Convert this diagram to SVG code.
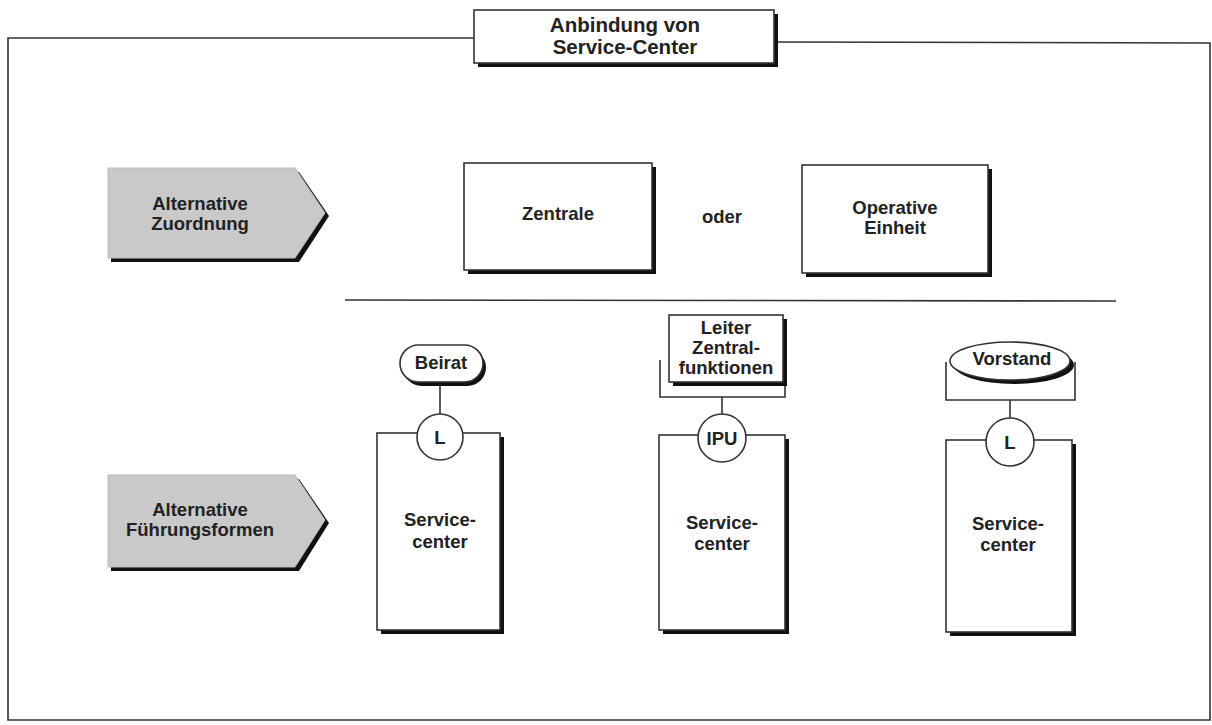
<svg xmlns="http://www.w3.org/2000/svg" width="1212" height="725" viewBox="0 0 1212 725">
<style>
.t{font-family:"Liberation Sans",Arial,sans-serif;font-weight:bold;font-size:18.5px;fill:#222;text-anchor:middle}
.tt{font-size:20.5px}
.ln{stroke:#333;stroke-width:1.6;fill:none}
.bx{fill:#fff;stroke:#333;stroke-width:1.6}
.sh{fill:#111}
.ar{fill:#c9c9c9;stroke:#bbb;stroke-width:1}
</style>
<rect width="1212" height="725" fill="#fff"/>
<g id="frame">
<path class="ln" d="M474,38 L8,38 L8,720 L1210,720 L1210,43 L774,42"/>
</g>
<g id="title">
<rect class="sh" x="478" y="14" width="300" height="53"/>
<rect class="bx" x="474" y="10" width="300" height="53"/>
<text class="t tt" x="625" y="32">Anbindung von</text>
<text class="t tt" x="625" y="54">Service-Center</text>
</g>
<g id="arrow1">
<path class="sh" d="M111,172 L299,172 L329,216 L299,262 L111,262 Z"/>
<path class="ar" d="M108,168 L295,168 L325,213 L295,258 L108,258 Z"/>
<text class="t" x="200" y="210">Alternative</text>
<text class="t" x="200" y="230">Zuordnung</text>
</g>
<g id="arrow2">
<path class="sh" d="M111,479 L299,479 L329,523 L299,571 L111,571 Z"/>
<path class="ar" d="M108,475 L295,475 L325,520 L295,567 L108,567 Z"/>
<text class="t" x="200" y="516">Alternative</text>
<text class="t" x="200" y="536">Führungsformen</text>
</g>
<g id="zentrale">
<rect class="sh" x="468" y="167" width="188" height="107"/>
<rect class="bx" x="464" y="163" width="188" height="107"/>
<text class="t" x="558" y="220">Zentrale</text>
</g>
<g id="oder">
<text class="t" x="722" y="223">oder</text>
</g>
<g id="operative">
<rect class="sh" x="806" y="169" width="186" height="108"/>
<rect class="bx" x="802" y="165" width="186" height="108"/>
<text class="t" x="895" y="214">Operative</text>
<text class="t" x="895" y="234">Einheit</text>
</g>
<g id="divider">
<line class="ln" x1="345" y1="300" x2="1116" y2="301"/>
</g>
<g id="connectors">
<line class="ln" x1="440" y1="382" x2="440" y2="414"/>
<path class="ln" d="M660,360 L660,397 L785,397 L785,360"/>
<line class="ln" x1="722" y1="397" x2="722" y2="414"/>
<path class="ln" d="M946,362 L946,400 L1075,400 L1075,362"/>
<line class="ln" x1="1010" y1="400" x2="1010" y2="418"/>
</g>
<g id="col1">
<rect class="sh" x="381" y="437" width="123" height="197"/>
<rect class="bx" x="377" y="433" width="123" height="197"/>
<rect class="sh" x="403" y="349" width="83" height="37" rx="18.5"/>
<rect class="bx" x="400" y="345" width="83" height="37" rx="18.5"/>
<text class="t" x="441" y="369">Beirat</text>
<circle class="bx" cx="440" cy="437" r="23"/>
<text class="t" x="440" y="444">L</text>
<text class="t" x="440" y="526">Service-</text>
<text class="t" x="440" y="548">center</text>
</g>
<g id="col2">
<rect class="sh" x="663" y="439" width="126" height="195"/>
<rect class="bx" x="659" y="435" width="126" height="195"/>
<rect class="sh" x="673" y="319" width="114" height="67"/>
<rect class="bx" x="669" y="315" width="114" height="67"/>
<text class="t" x="726" y="334">Leiter</text>
<text class="t" x="726" y="354">Zentral-</text>
<text class="t" x="726" y="374">funktionen</text>
<circle class="bx" cx="722" cy="438" r="24"/>
<text class="t" x="722" y="445">IPU</text>
<text class="t" x="722" y="529">Service-</text>
<text class="t" x="722" y="550">center</text>
</g>
<g id="col3">
<rect class="sh" x="950" y="444" width="126" height="192"/>
<rect class="bx" x="946" y="440" width="126" height="192"/>
<ellipse class="sh" cx="1014" cy="365" rx="60" ry="19"/>
<ellipse class="bx" cx="1010" cy="361" rx="60" ry="19"/>
<text class="t" x="1012" y="365">Vorstand</text>
<circle class="bx" cx="1010" cy="442" r="24"/>
<text class="t" x="1010" y="449">L</text>
<text class="t" x="1008" y="530">Service-</text>
<text class="t" x="1008" y="551">center</text>
</g>
</svg>
